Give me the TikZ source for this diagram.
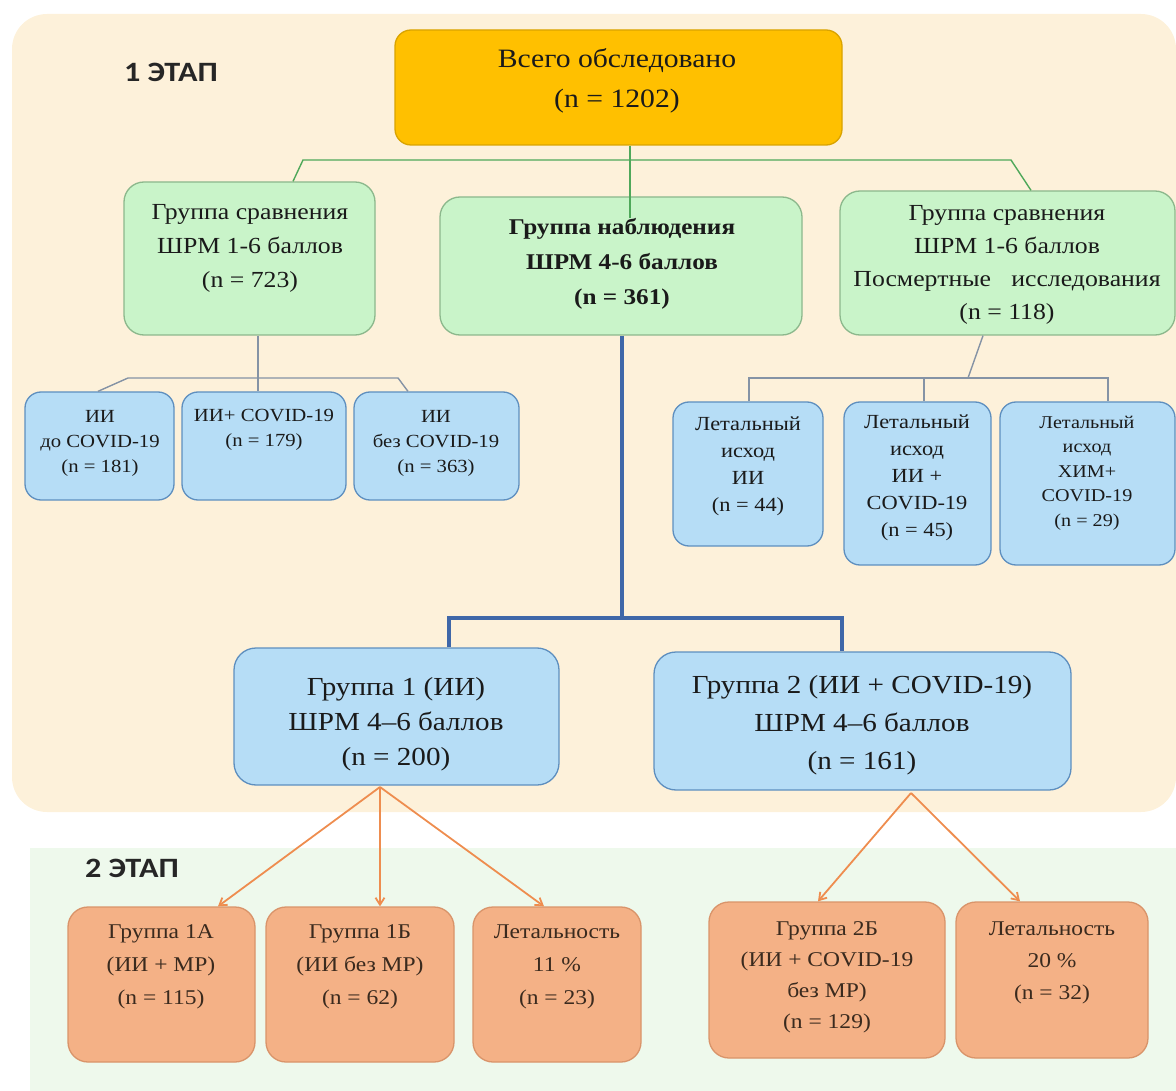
\documentclass[tikz,border=0pt]{standalone}
\usepackage{fontspec}
\setmainfont{Liberation Serif}[FakeStretch=1.12]
\newfontfamily\stagefont{Carlito}[FakeStretch=1.15]
\usetikzlibrary{arrows.meta}
\definecolor{bgone}{HTML}{FDF1DA}
\definecolor{bgtwo}{HTML}{EEF9EC}
\definecolor{topfill}{HTML}{FFC000}
\definecolor{topdraw}{HTML}{D9A300}
\definecolor{grfill}{HTML}{C9F4C9}
\definecolor{grdraw}{HTML}{8CB88C}
\definecolor{blfill}{HTML}{B6DDF6}
\definecolor{bldraw}{HTML}{5E8FBF}
\definecolor{orfill}{HTML}{F4B186}
\definecolor{ordraw}{HTML}{D9946A}
\definecolor{gline}{HTML}{4FA85A}
\definecolor{kline}{HTML}{8593A5}
\definecolor{bline}{HTML}{3F67A8}
\definecolor{oline}{HTML}{EE8D4F}
\definecolor{txt}{HTML}{1A1A1A}
\definecolor{otxt}{HTML}{3A2A1E}
\begin{document}
\begin{tikzpicture}[x=1pt,y=-1pt,
  box/.style={rectangle, rounded corners=#1, line width=1.3pt, inner sep=0pt},
  topbox/.style={box=16pt, fill=topfill, draw=topdraw},
  grbox/.style={box=20pt, fill=grfill, draw=grdraw},
  blbox/.style={box=16pt, fill=blfill, draw=bldraw},
  orbox/.style={box=20pt, fill=orfill, draw=ordraw},
  tx/.style={align=center, inner sep=0pt, text=txt},
  otx/.style={tx, text=otxt},
  stagelbl/.style={inner sep=0pt, font=\stagefont\bfseries\fontsize{28}{30}\selectfont, text=black!85},
  glin/.style={draw=gline, line width=1.4pt},
  klin/.style={draw=kline, line width=1.4pt},
  blin/.style={draw=bline, line width=4pt},
  olin/.style={draw=oline, line width=1.8pt, -{Straight Barb[length=7pt,width=9pt]}}
]
\useasboundingbox (0,0) rectangle (1176,1091);
\clip (0,0) rectangle (1176,1091);
% backgrounds
\fill[bgtwo] (30,848) rectangle (1200,1120);
\fill[bgone, rounded corners=35pt] (12,14) rectangle (1176,812);

% stage labels
\node[stagelbl] (st1) at (171,72) {1 ЭТАП};
\node[stagelbl] (st2) at (132,868) {2 ЭТАП};

% boxes
\node[topbox, minimum width=447pt, minimum height=115pt] (top) at (618.5,87.5) {};
\node[grbox, minimum width=251pt, minimum height=153pt] (L) at (249.5,258.5) {};
\node[grbox, minimum width=362pt, minimum height=138pt] (M) at (621,266) {};
\node[grbox, minimum width=335pt, minimum height=144pt] (R) at (1007.5,263) {};
\node[blbox, minimum width=149pt, minimum height=108pt] (a) at (99.5,446) {};
\node[blbox, minimum width=164pt, minimum height=108pt] (b) at (264,446) {};
\node[blbox, minimum width=165pt, minimum height=108pt] (c) at (436.5,446) {};
\node[blbox, minimum width=150pt, minimum height=144pt] (d) at (748,474) {};
\node[blbox, minimum width=147pt, minimum height=163pt] (e) at (917.5,483.5) {};
\node[blbox, minimum width=175pt, minimum height=163pt] (f) at (1087.5,483.5) {};
\node[blbox, box=22pt, minimum width=325pt, minimum height=137pt] (G1) at (396.5,716.5) {};
\node[blbox, box=22pt, minimum width=417pt, minimum height=138pt] (G2) at (862.5,721) {};
\node[orbox, minimum width=187pt, minimum height=155pt] (o1) at (161.5,984.5) {};
\node[orbox, minimum width=188pt, minimum height=155pt] (o2) at (360,984.5) {};
\node[orbox, minimum width=168pt, minimum height=155pt] (o3) at (557,984.5) {};
\node[orbox, minimum width=236pt, minimum height=156pt] (o4) at (827,980) {};
\node[orbox, minimum width=192pt, minimum height=156pt] (o5) at (1052,980) {};

% texts
\node[tx, font=\fontsize{26.5}{40}\selectfont] (top-t) at (617,81) {Всего обследовано\\(n = 1202)};
\node[tx, font=\fontsize{23}{34}\selectfont] (L-t) at (250,248) {Группа сравнения\\ШРМ 1-6 баллов\\(n = 723)};
\node[tx, font=\bfseries\fontsize{22.5}{35}\selectfont] (M-t) at (622,264) {Группа наблюдения\\ШРМ 4-6 баллов\\(n = 361)};
\node[tx, font=\fontsize{23}{33}\selectfont] (R-t) at (1007,265) {Группа сравнения\\ШРМ 1-6 баллов\\Посмертные\hspace{0.6em} исследования\\(n = 118)};
\node[tx, font=\fontsize{18.5}{25}\selectfont] (a-t) at (100,443) {ИИ\\до COVID-19\\(n = 181)};
\node[tx, font=\fontsize{18.5}{25}\selectfont] (b-t) at (264,430) {ИИ+ COVID-19\\(n = 179)};
\node[tx, font=\fontsize{18.5}{25}\selectfont] (c-t) at (436,443) {ИИ\\без COVID-19\\(n = 363)};
\node[tx, font=\fontsize{20}{27}\selectfont] (d-t) at (748,466) {Летальный\\исход\\ИИ\\(n = 44)};
\node[tx, font=\fontsize{20}{27}\selectfont] (e-t) at (917,478) {Летальный\\исход\\ИИ +\\COVID-19\\(n = 45)};
\node[tx, font=\fontsize{18}{24.5}\selectfont] (f-t) at (1087,473) {Летальный\\исход\\ХИМ+\\COVID-19\\(n = 29)};
\node[tx, font=\fontsize{26}{35}\selectfont] (G1-t) at (396,724) {Группа 1 (ИИ)\\ШРМ 4–6 баллов\\(n = 200)};
\node[tx, font=\fontsize{26}{38}\selectfont] (G2-t) at (862,725) {Группа 2 (ИИ + COVID-19)\\ШРМ 4–6 баллов\\(n = 161)};
\node[otx, font=\fontsize{21}{33}\selectfont] (o1-t) at (161,967) {Группа 1А\\(ИИ + МР)\\(n = 115)};
\node[otx, font=\fontsize{21}{33}\selectfont] (o2-t) at (360,967) {Группа 1Б\\(ИИ без МР)\\(n = 62)};
\node[otx, font=\fontsize{21}{33}\selectfont] (o3-t) at (557,967) {Летальность\\11 \%\\(n = 23)};
\node[otx, font=\fontsize{21}{31}\selectfont] (o4-t) at (827,977) {Группа 2Б\\(ИИ + COVID-19\\без МР)\\(n = 129)};
\node[otx, font=\fontsize{21}{32}\selectfont] (o5-t) at (1052,963) {Летальность\\20 \%\\(n = 32)};

% green connectors
\coordinate (gl) at (303,160);
\coordinate (gr) at (1011,160);
\coordinate (gm) at (630,218);
\draw[glin] (L.north -| 293,0) -- (gl) -- (gr) -- (R.north -| 1031,0);
\draw[glin] (top.south -| gm) -- (gm);

% grey connectors, left
\coordinate (kl) at (128,378);
\coordinate (kr) at (398,378);
\draw[klin] (L.south -| 258,0) -- (b.north -| 258,0);
\draw[klin] (a.north -| 98,0) -- (kl) -- (kr) -- (c.north -| 408,0);
% grey connectors, right
\coordinate (kk) at (968,378);
\coordinate (k1) at (749,378);
\coordinate (k2) at (924,378);
\coordinate (k3) at (1108,378);
\draw[klin] (R.south -| 983,0) -- (kk);
\draw[klin] (d.north -| k1) -- (k1) -- (k3) -- (f.north -| k3);
\draw[klin] (k2) -- (e.north -| k2);

% blue connectors
\coordinate (bm) at (622,618);
\coordinate (b1) at (449,618);
\coordinate (b2) at (842,618);
\draw[blin] (M.south -| bm) -- (bm);
\draw[blin] (G1.north -| b1) -- (b1) -- (b2) -- (G2.north -| b2);

% orange arrows
\coordinate (s1) at (380,787);
\coordinate (s2) at (911,793);
\draw[olin] (s1) -- (o1.north -| 218,0);
\draw[olin] (s1) -- (o2.north -| 380,0);
\draw[olin] (s1) -- (o3.north -| 544,0);
\draw[olin] (s2) -- (o4.north -| 818,0);
\draw[olin] (s2) -- (o5.north -| 1020,0);
\end{tikzpicture}
\end{document}
